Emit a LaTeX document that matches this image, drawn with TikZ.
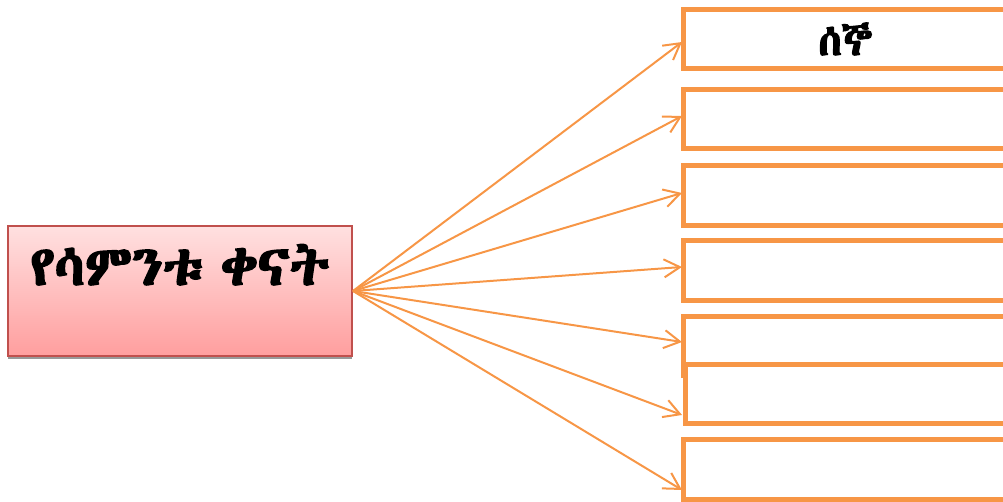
\documentclass[tikz,border=0pt]{standalone}
\usepackage{fontspec}
\usepackage{tikz}
\usetikzlibrary{calc, arrows.meta, backgrounds}
\IfFontExistsTF{Abyssinica SIL}
  {\newfontfamily\ethfont[Script=Ethiopic, FakeBold=3]{Abyssinica SIL}}
  {\IfFontExistsTF{FreeSerif}
    {\newfontfamily\ethfont[Script=Ethiopic]{FreeSerif}}
    {\newfontfamily\ethfont{DejaVu Sans}}}
\definecolor{dayorange}{HTML}{F79646}
\definecolor{weekred}{HTML}{C0504D}
\tikzset{
  weekbox/.style={draw=weekred, line width=0.04cm, inner sep=0pt,
    top color=red!12, bottom color=red!38,
    minimum width=6.88cm, text width=6.88cm, align=center,
    text height=1.18cm, text depth=1.42cm, font=\ethfont\bfseries\fontsize{31.5}{36}\selectfont},
  daybox/.style={draw=dayorange, line width=0.1cm, fill=white, inner sep=0pt,
    minimum width=6.47cm, minimum height=1.18cm, font=\ethfont\bfseries\fontsize{24}{28}\selectfont},
  dayarrow/.style={draw=dayorange, line width=0.04cm, -{Straight Barb[length=0.32cm, width=0.36cm]}}
}
\begin{document}
\begin{tikzpicture}[x=0.02cm, y=-0.02cm]
  \useasboundingbox (0,0) rectangle (1003,502);
  % ጥላ
  \fill[black!40] (8,229) rectangle (352,359);
  \node[weekbox] (week) at (180,291) {የሳምንቱ ቀናት};
  % የቀናት ሳጥኖች
  \node[daybox] (b1) at (845.25,39) {ሰኞ};
  \node[daybox] (b2) at (845.25,119) {};
  \node[daybox, minimum height=1.2cm] (b3) at (845.25,195.5) {};
  \node[daybox, minimum height=1.2cm] (b4) at (845.25,270.5) {};
  \node[daybox] (b5) at (845.25,346) {};
  \node[daybox, minimum width=6.43cm] (b6) at (846.25,394) {};
  \node[daybox, minimum height=1.2cm] (b7) at (845.25,469.5) {};
  % ቀስቶች
  \foreach \i/\y in {1/42, 2/116, 3/193, 4/267, 5/342, 6/415, 7/490}
    \coordinate (t\i) at (682,\y);
  \foreach \i in {1,...,7}
    \draw[dayarrow] (week.east) -- (t\i);
\end{tikzpicture}
\end{document}
